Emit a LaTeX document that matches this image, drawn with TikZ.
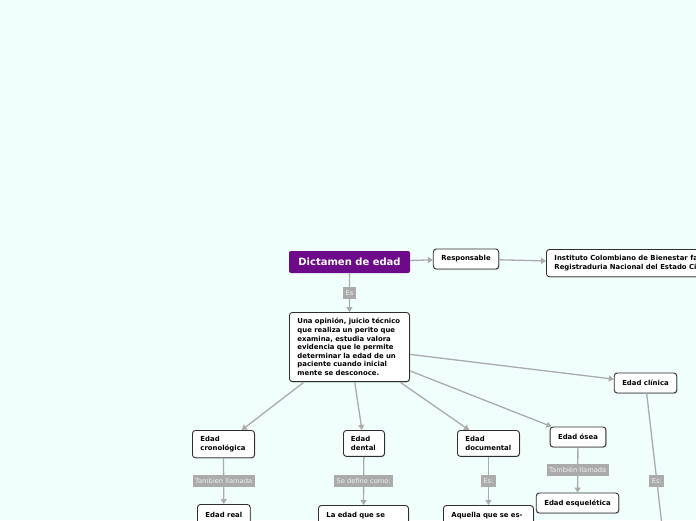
\documentclass[tikz,border=0pt]{standalone}
\usepackage{fontspec}
\setmainfont{DejaVu Sans}
\usepackage{tikz}
\usetikzlibrary{arrows.meta,shadows}
\definecolor{DEBack}{HTML}{F0FFFC}
\definecolor{DEPurple}{HTML}{6C0A8A}
\definecolor{DELine}{HTML}{ABABAB}
\definecolor{DETag}{HTML}{ABABAB}
\definecolor{DEBorder}{HTML}{2E2E2E}
\tikzset{
  concepto/.style={draw=DEBorder,line width=0.9pt,rounded corners=3pt,fill=white,
    drop shadow={shadow xshift=0.8pt,shadow yshift=-0.8pt,opacity=0.4},
    align=left,inner xsep=8pt,inner ysep=6pt,
    font=\fontsize{6.9}{8.6}\selectfont\bfseries},
  simple/.style={concepto,minimum height=20pt},
  titulo/.style={fill=DEPurple,rounded corners=2pt,text=white,
    minimum width=121pt,minimum height=22pt,inner sep=0pt,
    font=\fontsize{10}{12}\selectfont\bfseries},
  etiqueta/.style={fill=DETag,text=white!94!black,inner xsep=2.5pt,inner ysep=2pt,
    minimum height=12pt,font=\fontsize{6.7}{7.5}\selectfont},
  conector/.style={draw=DELine,line width=1.3pt,-{Triangle[length=5pt,width=6pt]}}
}

\begin{document}
\begin{tikzpicture}[x=1pt,y=-1pt]
\fill[DEBack] (0,0) rectangle (696,520);
\useasboundingbox (0,0) rectangle (696,520);
\clip (0,0) rectangle (696,520);
% main concept and its definition
\node[titulo] (dictamen) at (349.5,262) {Dictamen de edad};
\node[simple] (responsable) at (466,259) {Responsable};
\node[concepto,anchor=north west] (instituto) at (546,249)
  {Instituto Colombiano de Bienestar familiar\\Registraduria Nacional del Estado Civil};
\node[concepto,anchor=north west,text width=104pt] (definicion) at (289,312)
  {Una opinión, juicio técnico\\que realiza un perito que\\examina, estudia valora\\evidencia que le permite\\determinar la edad de un\\paciente cuando inicial\\mente se desconoce.};
% kinds of age
\node[simple] (clinica) at (645.5,383) {Edad clínica};
\node[concepto,anchor=north west,text width=46pt] (cronologica) at (192,430) {Edad\\cronológica};
\node[concepto,anchor=north west,text width=26pt,inner xsep=7.5pt] (dental) at (343,430) {Edad\\dental};
\node[concepto,anchor=north west,text width=46pt] (documental) at (457,430) {Edad\\documental};
\node[simple] (osea) at (578,437) {Edad ósea};
% second level
\node[simple,anchor=north west] (real) at (197,504) {Edad real};
\node[simple,anchor=north west,text width=74pt] (laedad) at (318,505) {La edad que se};
\node[simple,anchor=north west,text width=74pt] (aquella) at (443,505) {Aquella que se es-};
\node[simple] (esqueletica) at (577.5,503) {Edad esquelética};
\coordinate (clinicafin) at (667,569);
% connectors
\draw[conector] (dictamen) -- (responsable);
\draw[conector] (responsable) -- (instituto);
\draw[conector] (dictamen) -- node[etiqueta] {Es} (definicion);
\draw[conector] (definicion) -- (cronologica);
\draw[conector] (definicion) -- (dental);
\draw[conector] (definicion) -- (documental);
\draw[conector] (definicion) -- (osea);
\draw[conector] (definicion) -- (clinica);
\draw[conector] (cronologica) -- node[etiqueta] {Tambien llamada} (real);
\draw[conector] (dental) -- node[etiqueta] {Se define como:} (laedad);
\draw[conector] (documental) -- node[etiqueta] {Es:} (aquella);
\draw[conector] (osea) -- node[etiqueta] {También llamada} (esqueletica);
\draw[conector] (clinica) -- node[etiqueta] {Es:} (clinicafin);
\end{tikzpicture}
\end{document}
